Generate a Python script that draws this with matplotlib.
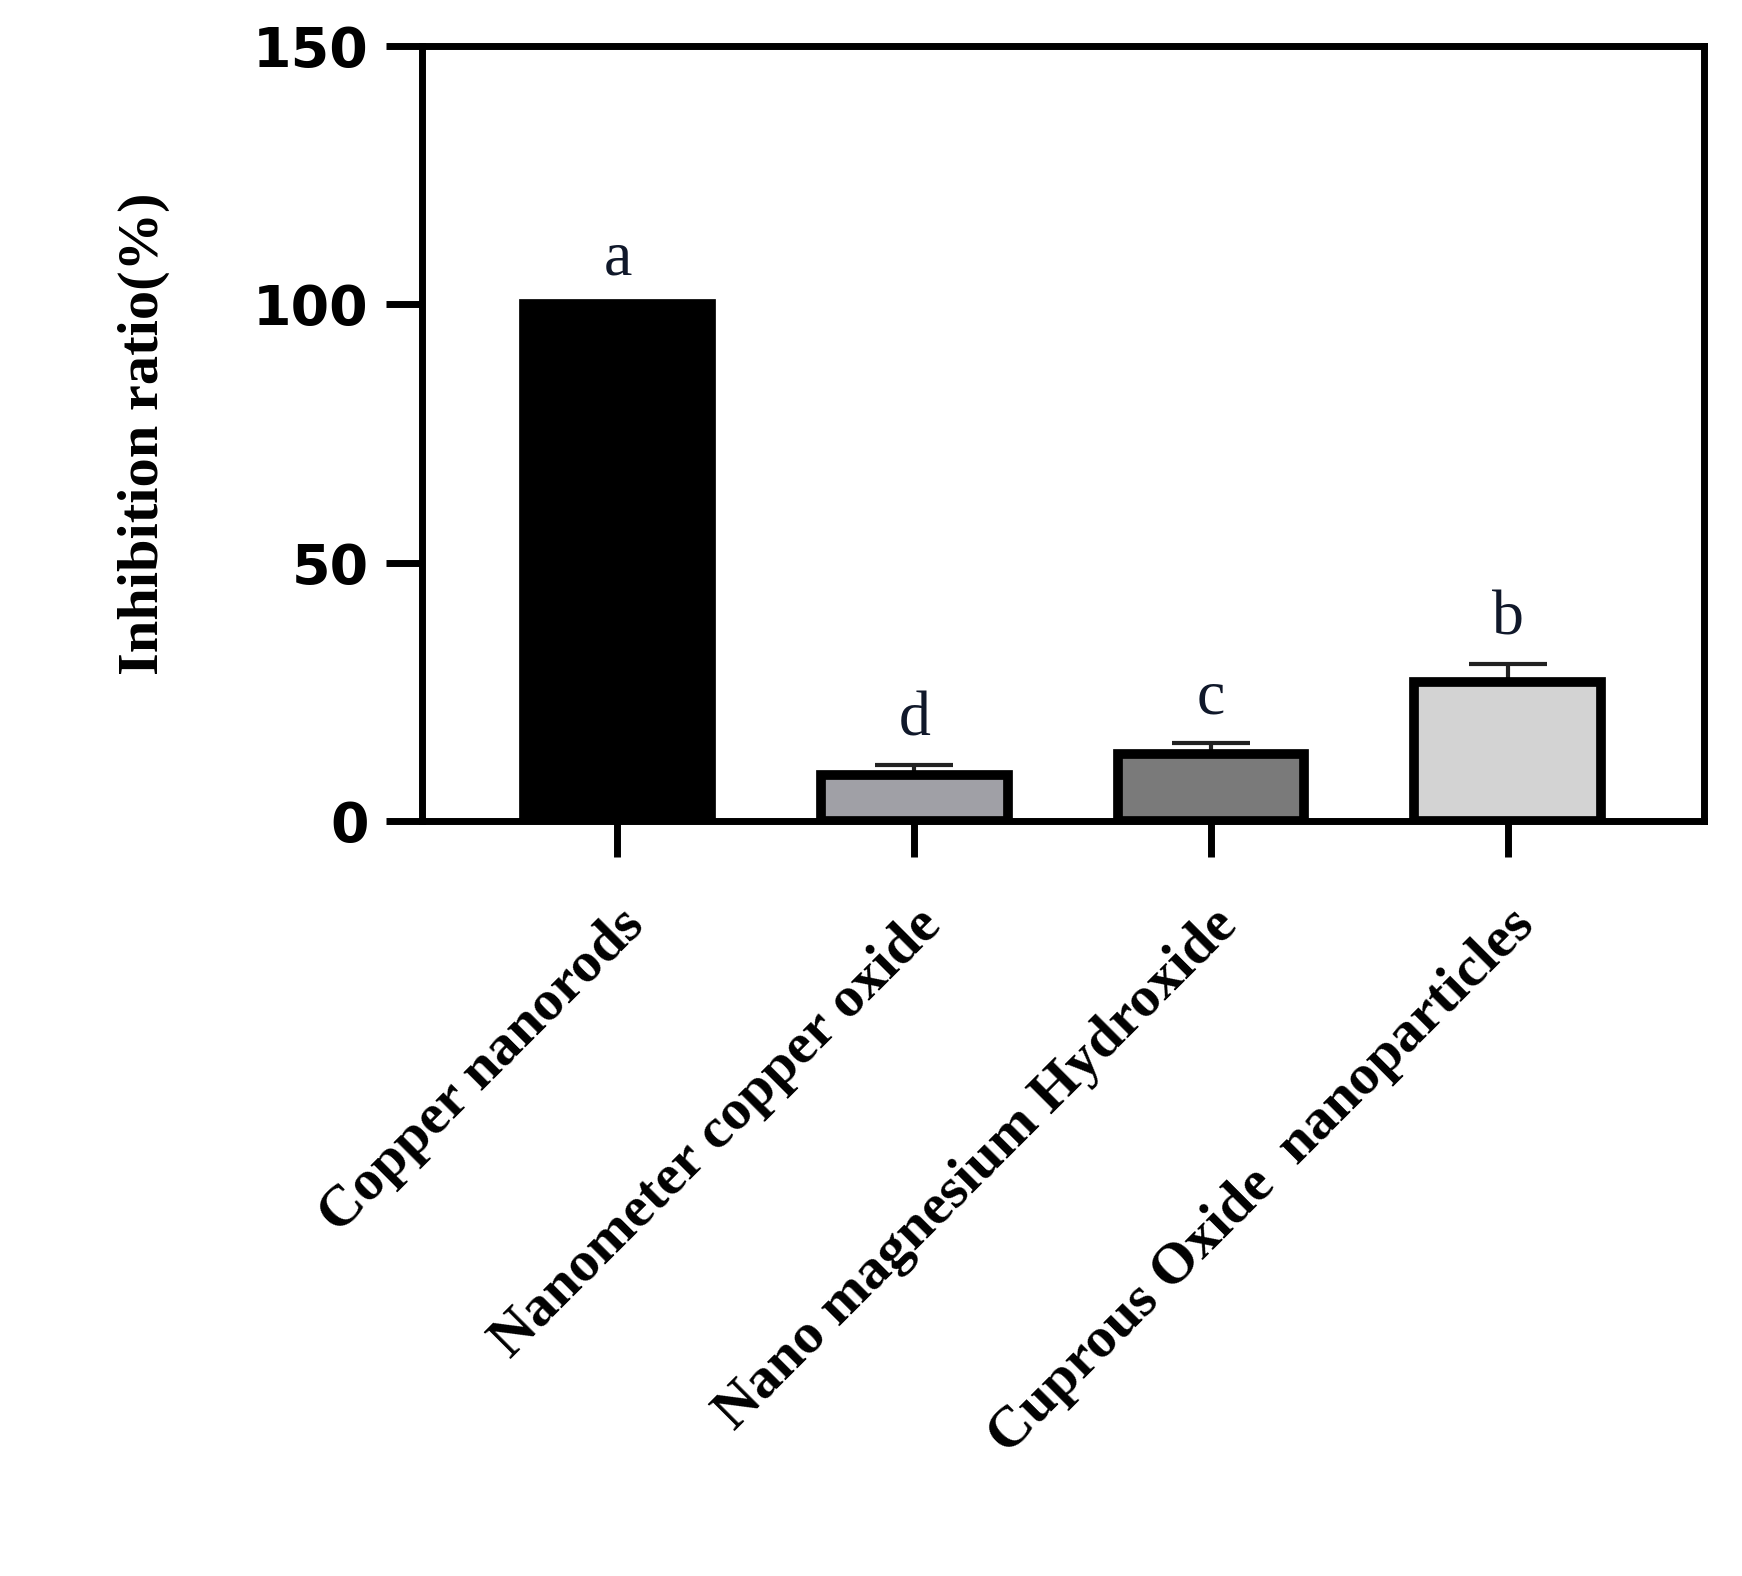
import matplotlib
matplotlib.use("Agg")
import matplotlib.pyplot as plt

categories = ["Copper nanorods", "Nanometer copper oxide", "Nano magnesium Hydroxide", "Cuprous Oxide  nanoparticles"]
values = [100, 9, 13, 27]
errors = [0, 1.8, 2.2, 3.3]
letters = ["a", "d", "c", "b"]
colors = ["#000000", "#a0a0a6", "#7a7a7a", "#d3d3d3"]

fig = plt.figure(figsize=(17.42, 15.76), dpi=100)
ax = fig.add_axes([0.242, 0.479, 0.736, 0.492])
x = list(range(len(categories)))
ax.bar(x, values, width=0.63, color=colors, edgecolor="black", linewidth=7, zorder=2)
for xi, v, e in zip(x, values, errors):
    if e > 0:
        ax.errorbar(xi, v, yerr=[[0], [e]], color="#222222", capsize=28, elinewidth=3, capthick=3, zorder=1)
for xi, v, e, l in zip(x, values, errors, letters):
    ax.text(xi, v + e + 3, l, ha="center", va="bottom", fontsize=46, family="Liberation Serif", color="#10182a")
ax.set_xlim(-0.66, 3.66)
ax.set_ylim(0, 150)
ax.set_yticks([0, 50, 100, 150])
ax.set_yticklabels(["0", "50", "100", "150"], fontsize=40, fontweight="heavy", family="DejaVu Sans")
ax.set_xticks(x)
ax.set_xticklabels(categories, rotation=45, ha="right", rotation_mode="anchor",
                   fontsize=42, fontweight="bold", family="Liberation Serif")
for s in ax.spines.values():
    s.set_linewidth(5)
ax.tick_params(axis="both", width=5, length=26, direction="out", pad=12)
ax.tick_params(axis="x", pad=30)
ax.set_ylabel("Inhibition ratio(%)", fontsize=42, fontweight="bold", family="Liberation Serif", labelpad=60)
fig.savefig("out.png", dpi=100, facecolor="white")
